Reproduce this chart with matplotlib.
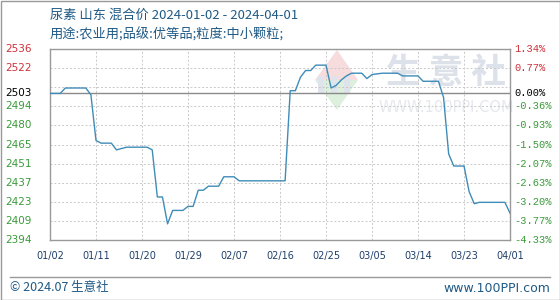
import matplotlib
matplotlib.use("Agg")
import matplotlib.pyplot as plt
import matplotlib.transforms as mtransforms
from matplotlib.patches import Rectangle, Polygon
import numpy as np
import pandas as pd

plt.rcParams['font.family'] = ['Noto Sans CJK SC', 'DejaVu Sans']

# price points (date, yuan/t)
dates = ["2024-01-02", "2024-01-04", "2024-01-05", "2024-01-09", "2024-01-10", "2024-01-11",
         "2024-01-12", "2024-01-14", "2024-01-15", "2024-01-17", "2024-01-21", "2024-01-22",
         "2024-01-23", "2024-01-24", "2024-01-25", "2024-01-26", "2024-01-28", "2024-01-29",
         "2024-01-30", "2024-01-31", "2024-02-01", "2024-02-02", "2024-02-04", "2024-02-05",
         "2024-02-07", "2024-02-08", "2024-02-17", "2024-02-18", "2024-02-19", "2024-02-20",
         "2024-02-21", "2024-02-22", "2024-02-23", "2024-02-25", "2024-02-26", "2024-02-27",
         "2024-02-28", "2024-02-29", "2024-03-01", "2024-03-03", "2024-03-04", "2024-03-05",
         "2024-03-07", "2024-03-10", "2024-03-11", "2024-03-14", "2024-03-15", "2024-03-18",
         "2024-03-19", "2024-03-20", "2024-03-21", "2024-03-23", "2024-03-24", "2024-03-25",
         "2024-03-26", "2024-03-31", "2024-04-01"]
prices = [2503, 2503, 2507, 2507, 2502, 2468,
          2466, 2466, 2461, 2463, 2463, 2461,
          2426, 2426, 2406, 2416, 2416, 2419,
          2419, 2431, 2431, 2434, 2434, 2441,
          2441, 2438, 2438, 2505, 2505, 2515,
          2520, 2520, 2524, 2524, 2507, 2509,
          2513, 2516, 2518, 2518, 2514, 2517,
          2518, 2518, 2516, 2516, 2512, 2512,
          2500, 2458, 2449, 2449, 2430, 2421,
          2422, 2422, 2414]

base_price = 2503
y_min, y_max = 2394, 2536
left_labels = ["2536", "2522", "2503", "2494", "2480", "2465", "2451", "2437", "2423", "2409", "2394"]
right_labels = ["1.34%", "0.77%", "0.00%", "-0.36%", "-0.93%", "-1.50%", "-2.07%",
                "-2.63%", "-3.20%", "-3.77%", "-4.33%"]
x_labels = ["01/02", "01/11", "01/20", "01/29", "02/07", "02/16", "02/25", "03/05", "03/14", "03/23", "04/01"]

title = "尿素 山东 混合价 2024-01-02 - 2024-04-01"
subtitle = "用途:农业用;品级:优等品;粒度:中小颗粒;"

text_blue = "#1f5a85"
red = "#d0303a"
green = "#3a9a3a"

x = pd.to_datetime(dates)
start, end = pd.Timestamp("2024-01-02"), pd.Timestamp("2024-04-01")

W, H = 560, 300
fig = plt.figure(figsize=(5.6, 3.0), dpi=100)
ax = fig.add_axes([50 / W, 60 / H, 460 / W, 191 / H])
ax.set_facecolor("none")

def px(xp, yp):
    # pixel position (from top-left) -> figure fraction
    return (xp / W, 1 - yp / H)

# watermark behind the axes: logo diamond + site name
fig.add_artist(Polygon([px(315, 80), px(337, 50), px(358, 80)], closed=True,
                       facecolor="#f6dcdc", edgecolor="none", zorder=-2, transform=fig.transFigure))
fig.add_artist(Polygon([px(315, 80), px(337, 110), px(358, 80)], closed=True,
                       facecolor="#ddf0dd", edgecolor="none", zorder=-2, transform=fig.transFigure))
for bx in (318, 331, 344):
    fig.add_artist(Rectangle(px(bx, 93), 6 / W, 17 / H, facecolor="#dfe3ec", edgecolor="none",
                             zorder=-1, transform=fig.transFigure))
fig.text(*px(446, 72), "生 意 社", fontsize=25, color="#dde1ea", ha="center", va="center",
         fontweight="bold", zorder=-1)
fig.text(*px(446, 107), "WWW.100PPI.COM", fontsize=10.5, color="#e6e8ee", ha="center", va="center",
         zorder=-1, family="DejaVu Sans")

ax.plot(x, prices, color="#3f8cb8", linewidth=1.0, zorder=3)
ax.axhline(base_price, color="#8a8a8a", linewidth=1.0, zorder=2)

grid_y = np.linspace(y_min, y_max, 11)
ax.set_ylim(y_min, y_max)
ax.set_yticks(grid_y)
ax.set_yticklabels([])
tick_dates = pd.date_range(start, end, freq="9D")
ax.set_xlim(start, end)
ax.set_xticks(tick_dates)
ax.set_xticklabels(x_labels, fontsize=7, color="#1f3f6a", family="DejaVu Sans")
ax.tick_params(length=0, pad=8)
ax.grid(True, color="#c8c8c8", linestyle=(0, (2, 2)), linewidth=0.7)
for s in ax.spines.values():
    s.set_color("#999999")
    s.set_linewidth(1.0)

# y labels, left (price) and right (change vs base)
label_pos = [y_max, grid_y[9], base_price] + list(grid_y[7::-1])
trans = mtransforms.blended_transform_factory(fig.transFigure, ax.transData)
for v, lt, rt in zip(label_pos, left_labels, right_labels):
    if v > base_price:
        c = red
    elif v == base_price:
        c = "black"
    else:
        c = green
    ax.text(5 / W, v, lt, transform=trans, fontsize=7.5, color=c, ha="left", va="center",
            family="DejaVu Sans")
    ax.text(514 / W, v, rt, transform=trans, fontsize=7.5, color=c, ha="left", va="center",
            family="Liberation Mono")

fig.text(*px(50, 15), title, fontsize=9.5, color=text_blue, va="center", ha="left")
fig.text(*px(50, 35), subtitle, fontsize=9.5, color=text_blue, va="center", ha="left")

# footer
fig.add_artist(plt.Line2D([10 / W, 550 / W], [1 - 277 / H] * 2, color="#999999", linewidth=1.0))
fig.text(*px(10, 288), "© 2024.07 生意社", fontsize=9, color=text_blue, va="center", ha="left")
fig.text(*px(550, 288), "www.100PPI.com", fontsize=9, color=text_blue, va="center", ha="right",
         family="DejaVu Sans")
fig.add_artist(Rectangle((0.5 / W, 0.5 / H), 1 - 1 / W, 1 - 1 / H, transform=fig.transFigure,
                         fill=False, edgecolor="#999999", linewidth=1.0))

fig.savefig("out.png", dpi=100)
